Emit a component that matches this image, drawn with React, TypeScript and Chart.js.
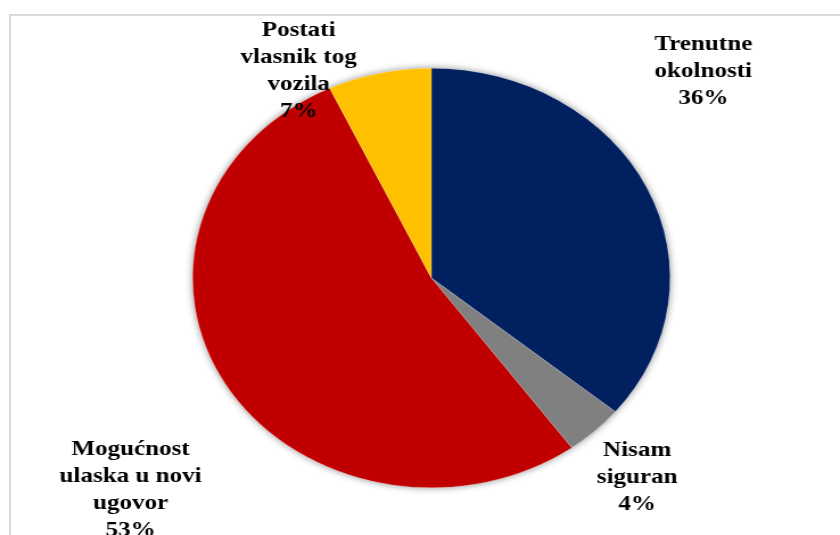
import React, { useEffect, useRef } from "react";
import { Chart, registerables } from "chart.js";

Chart.register(...registerables);

const categories = [
  "Trenutne okolnosti",
  "Nisam siguran",
  "Mogućnost ulaska u novi ugovor",
  "Postati vlasnik tog vozila",
];
const labelLines = [
  ["Trenutne", "okolnosti"],
  ["Nisam", "siguran"],
  ["Mogućnost", "ulaska u novi", "ugovor"],
  ["Postati", "vlasnik tog", "vozila"],
];
const values = [36, 4, 53, 7];
const colors = ["#002060", "#808080", "#C00000", "#FFC000"];
// label centres relative to the pie centre, in units of the radius
const labelAnchors = [
  [1.139, -0.986],
  [0.862, 0.948],
  [-1.26, 1.01],
  [-0.556, -0.986],
];

const CANVAS_W = 738;
const CANVAS_H = 535;
const SHOW_W = 840;

const shadowPlugin = {
  id: "pieShadow",
  beforeDatasetsDraw(chart: any) {
    const arc = chart.getDatasetMeta(0).data[0];
    if (!arc) return;
    const { x, y, outerRadius } = arc.getProps(["x", "y", "outerRadius"], true);
    const ctx = chart.ctx;
    ctx.save();
    ctx.shadowColor = "rgba(0,0,0,0.45)";
    ctx.shadowBlur = 7;
    ctx.fillStyle = "#ffffff";
    ctx.beginPath();
    ctx.arc(x, y, outerRadius, 0, Math.PI * 2);
    ctx.fill();
    ctx.restore();
  },
};

const labelPlugin = {
  id: "pieLabels",
  afterDatasetsDraw(chart: any) {
    const meta = chart.getDatasetMeta(0);
    const arc = meta.data[0];
    if (!arc) return;
    const { x, y, outerRadius } = arc.getProps(["x", "y", "outerRadius"], true);
    const ds = chart.data.datasets[0].data as number[];
    const total = ds.reduce((a, b) => a + b, 0);
    const ctx = chart.ctx;
    ctx.save();
    ctx.font = "bold 22px 'Liberation Serif', 'Times New Roman', serif";
    ctx.fillStyle = "#000000";
    ctx.textAlign = "center";
    ctx.textBaseline = "middle";
    const lh = 27;
    ds.forEach((v, i) => {
      const lines = [...labelLines[i], Math.round((v / total) * 100) + "%"];
      const cx = x + labelAnchors[i][0] * outerRadius;
      const cy = y + labelAnchors[i][1] * outerRadius;
      const startY = cy - ((lines.length - 1) * lh) / 2;
      lines.forEach((t, k) => ctx.fillText(t, cx, startY + k * lh));
    });
    ctx.restore();
  },
};

export default function App() {
  const ref = useRef<HTMLCanvasElement | null>(null);
  useEffect(() => {
    if (!ref.current) return;
    const chart = new Chart(ref.current, {
      type: "pie",
      data: {
        labels: categories,
        datasets: [
          {
            data: values,
            backgroundColor: colors,
            borderColor: "rgba(255,255,255,0.35)",
            borderWidth: 0.5,
          },
        ],
      },
      options: {
        responsive: false,
        animation: false,
        devicePixelRatio: 1,
        layout: { padding: { left: 169, right: 149, top: 68, bottom: 47 } },
        plugins: {
          legend: { display: false },
          tooltip: { enabled: false },
        },
      },
      plugins: [shadowPlugin, labelPlugin],
    });
    return () => chart.destroy();
  }, []);
  return (
    <div style={{ position: "absolute", left: 0, top: 0, width: SHOW_W, height: CANVAS_H, overflow: "hidden", background: "#ffffff" }}>
      <div
        style={{
          position: "absolute",
          left: 9,
          top: 14,
          width: 900,
          height: 700,
          border: "2px solid #d9d9d9",
          boxSizing: "border-box",
        }}
      />
      <canvas
        ref={ref}
        width={CANVAS_W}
        height={CANVAS_H}
        style={{ position: "absolute", left: 0, top: 0, width: SHOW_W, height: CANVAS_H, display: "block" }}
      />
    </div>
  );
}
